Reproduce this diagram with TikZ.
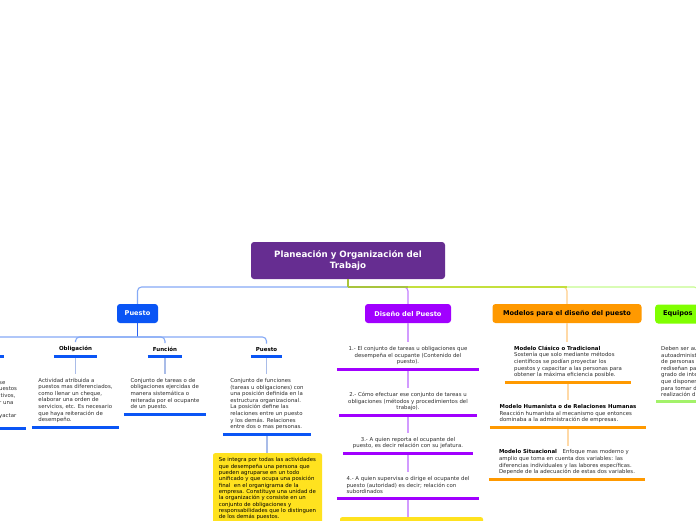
\documentclass[tikz,border=0pt]{standalone}
\usepackage{fontspec}
\setmainfont{DejaVu Sans}
\definecolor{titlec}{HTML}{662D91}
\definecolor{pblue}{HTML}{0A55F5}
\definecolor{pviolet}{HTML}{A100FF}
\definecolor{porange}{HTML}{FF9900}
\definecolor{pgreen}{HTML}{80FF00}
\definecolor{pyellow}{HTML}{FFE21F}
\definecolor{lblue}{HTML}{86AAF6}
\definecolor{dblue}{HTML}{2A62F2}
\definecolor{gblue}{HTML}{A9BCE8}
\definecolor{lviolet}{HTML}{C47DFF}
\definecolor{gviolet}{HTML}{D29BFF}
\definecolor{lorange}{HTML}{FFCE8A}
\definecolor{gorange}{HTML}{FFD9A6}
\definecolor{lgreen}{HTML}{C6FB8E}
\definecolor{ebar}{HTML}{A3F26A}
\definecolor{trunka}{HTML}{A8C43C}
\definecolor{trunkb}{HTML}{C4E03E}
\definecolor{txt}{HTML}{2E2E2E}
\begin{document}
\begin{tikzpicture}[x=1pt,y=-1pt,
    font=\fontsize{5.4}{6.6}\selectfont,
    topic/.style={rounded corners=3,inner sep=0,minimum height=19,fill=#1,
      font=\fontsize{6.6}{7}\selectfont\bfseries},
    sublbl/.style={anchor=south,inner xsep=0,inner ysep=4,
      font=\fontsize{5.5}{6}\selectfont\bfseries},
    leaf/.style={anchor=south,inner xsep=0,inner ysep=4,text=txt,align=left},
    bar/.style={draw=#1,line width=3},
    link/.style={draw=#1,line width=1.1,rounded corners=4}]
  \useasboundingbox (0,0) rectangle (696,520);
  \fill[white] (0,0) rectangle (696,520);
  \clip (0,0) rectangle (696,520);

  \node[topic=titlec,minimum width=194,minimum height=37,text=white,align=center,
    font=\fontsize{8.7}{11}\selectfont\bfseries] (plan) at (348,260.5)
    {Planeación y Organización del\\Trabajo};
  \coordinate (hub) at (348,287);

  \node[topic=pblue,minimum width=41,text=white] (pue) at (137.5,313.5) {Puesto};
  \node[topic=pviolet,minimum width=86,text=white] (dis) at (408,313.5) {Diseño del Puesto};
  \node[topic=porange,minimum width=149] (mod) at (567,313.5) {Modelos para el diseño del puesto};
  \node[topic=pgreen,anchor=west,text width=70,inner xsep=8,align=left] (equ) at (655,314) {Equipos};

  % Puesto
  \coordinate (hub2) at (137.5,337);
  \node[sublbl,minimum width=40] (lft) at (-16.5,356) {};
  \node[sublbl,minimum width=43] (obl) at (75.5,356) {Obligación};
  \node[sublbl,minimum width=34] (fun) at (165,356) {Función};
  \node[sublbl,minimum width=31] (pst) at (266.5,356) {Puesto};
  \node[leaf,anchor=south west,text width=27] (ltx) at (-1,428)
    {se\\uestos\\itivos,\\r una\\\mbox{}\\yactar\\\mbox{}};
  \node[leaf,minimum width=87] (obltx) at (75.5,427)
    {Actividad atribuida a\\puestos mas diferenciados,\\como llenar un cheque,\\elaborar una orden de\\servicios, etc. Es necesario\\que haya reiteración de\\desempeño.};
  \node[leaf,minimum width=82] (funtx) at (165,414)
    {Conjunto de tareas o de\\obligaciones ejercidas de\\manera sistemática o\\reiterada por el ocupante\\de un puesto.};
  \node[leaf,minimum width=88] (psttx) at (267,434)
    {Conjunto de funciones\\(tareas u obligaciones) con\\una posición definida en la\\estructura organizacional.\\La posición define las\\relaciones entre un puesto\\y los demás. Relaciones\\entre dos o mas personas.};
  \node[leaf,anchor=north,fill=pyellow,text=black,rounded corners=2,minimum width=109,
    inner ysep=4.5,font=\fontsize{5.4}{6.35}\selectfont] (ybox) at (267.5,453)
    {Se integra por todas las actividades\\que desempeña una persona que\\pueden agruparse en un todo\\unificado y que ocupa una posición\\final~ en el organigrama de la\\empresa. Constituye una unidad de\\la organización y consiste en un\\conjunto de obligaciones y\\responsabilidades que lo distinguen\\de los demás puestos.};

  % Diseño del Puesto
  \node[leaf,align=center,minimum width=142] (d1) at (408,369)
    {1.- El conjunto de tareas u obligaciones que\\desempeña el ocupante (Contenido del\\puesto).};
  \node[leaf,align=center,minimum width=137] (d2) at (408,415)
    {2.- Cómo efectuar ese conjunto de tareas u\\obligaciones (métodos y procedimientos del\\trabajo).};
  \node[leaf,align=center,minimum width=129] (d3) at (408,453)
    {3.- A quien reporta el ocupante del\\puesto, es decir relación con su jefatura.};
  \node[leaf,minimum width=141] (d4) at (408,498)
    {4.- A quien supervisa o dirige el ocupante del\\puesto (autoridad) es decir; relación con\\subordinados};
  \node[anchor=north,fill=pyellow,rounded corners=2,minimum width=143,minimum height=20] (d5) at (411.5,517) {};

  % Modelos
  \node[leaf,minimum width=126] (m1) at (568,382)
    {\textbf{\color{black}Modelo Clásico o Tradicional}\\Sostenía que solo mediante métodos\\científicos se podían proyectar los\\puestos y capacitar a las personas para\\obtener la máxima eficiencia posible.};
  \node[leaf,minimum width=156] (m2) at (568,427)
    {\textbf{\color{black}Modelo Humanista o de Relaciones Humanas}\\Reacción humanista al mecanismo que entonces\\dominaba a la administración de empresas.};
  \node[leaf,minimum width=156] (m3) at (567,479)
    {\textbf{\color{black}Modelo Situacional}\hspace{4pt} Enfoque mas moderno y\\amplio que toma en cuenta dos variables: las\\diferencias individuales y las labores específicas.\\Depende de la adecuación de estas dos variables.};

  % Equipos
  \node[leaf,anchor=south west,text width=70,inner xsep=5] (eqtx) at (656,401)
    {Deben ser au\\autoadminist\\de personas\\rediseñan pa\\grado de inte\\que disponen\\para tomar d\\realización d};

  \begin{scope}
    \draw[link=lgreen] (hub) -| (equ.north);
    \draw[link=lorange] (hub) -| (mod.north);
    \draw[link=lviolet] (hub) -| (dis.north);
    \draw[link=lblue] (hub) -| (pue.north);
    \draw[link=trunka] (hub) -- (dis.north |- hub);
    \draw[link=trunkb] (dis.north |- hub) -- (mod.north |- hub);
    \draw[link=trunka,line width=1.4] (plan) -- (hub);

    \draw[link=dblue] (pue) -- (hub2);
    \draw[link=lblue] (hub2) -| (lft.north);
    \draw[link=lblue] (hub2) -| (obl.north);
    \draw[link=lblue] (hub2) -| (fun.north);
    \draw[link=lblue] (hub2) -| (pst.north);
    \draw[link=gblue] (obl.south) -- (obl.south |- obltx.north);
    \draw[link=gblue] (fun.south) -- (fun.south |- funtx.north);
    \draw[link=gblue] (pst.south) -- (pst.south |- psttx.north);
    \draw[link=gblue] (psttx.south) -- (psttx.south |- ybox.north);

    \draw[link=gviolet] (dis) -- (d1);
    \draw[link=gviolet] (d1) -- (d2);
    \draw[link=gviolet] (d2) -- (d3);
    \draw[link=gviolet] (d3) -- (d4);
    \draw[link=gviolet] (d4.south) -- (d4.south |- d5.north);

    \draw[link=gorange] (mod.south) -- (mod.south |- m1.north);
    \draw[link=gorange] (m1.south) -- (m1.south |- m2.north);
    \draw[link=gorange] (m2.south) -- (m2.south |- m3.north);
  \end{scope}

  \begin{scope}
    \draw[bar=pblue] (lft.south west) -- (lft.south east);
    \draw[bar=pblue] (obl.south west) -- (obl.south east);
    \draw[bar=pblue] (fun.south west) -- (fun.south east);
    \draw[bar=pblue] (pst.south west) -- (pst.south east);
    \draw[bar=pblue] (ltx.south west) -- (ltx.south east);
    \draw[bar=pblue] (obltx.south west) -- (obltx.south east);
    \draw[bar=pblue] (funtx.south west) -- (funtx.south east);
    \draw[bar=pblue] (psttx.south west) -- (psttx.south east);
    \draw[bar=pviolet] (d1.south west) -- (d1.south east);
    \draw[bar=pviolet] (d2.south west) -- (d2.south east);
    \draw[bar=pviolet] (d3.south west) -- (d3.south east);
    \draw[bar=pviolet] (d4.south west) -- (d4.south east);
    \draw[bar=porange] (m1.south west) -- (m1.south east);
    \draw[bar=porange] (m2.south west) -- (m2.south east);
    \draw[bar=porange] (m3.south west) -- (m3.south east);
    \draw[bar=ebar] (eqtx.south west) -- (eqtx.south east);
  \end{scope}
\end{tikzpicture}
\end{document}
